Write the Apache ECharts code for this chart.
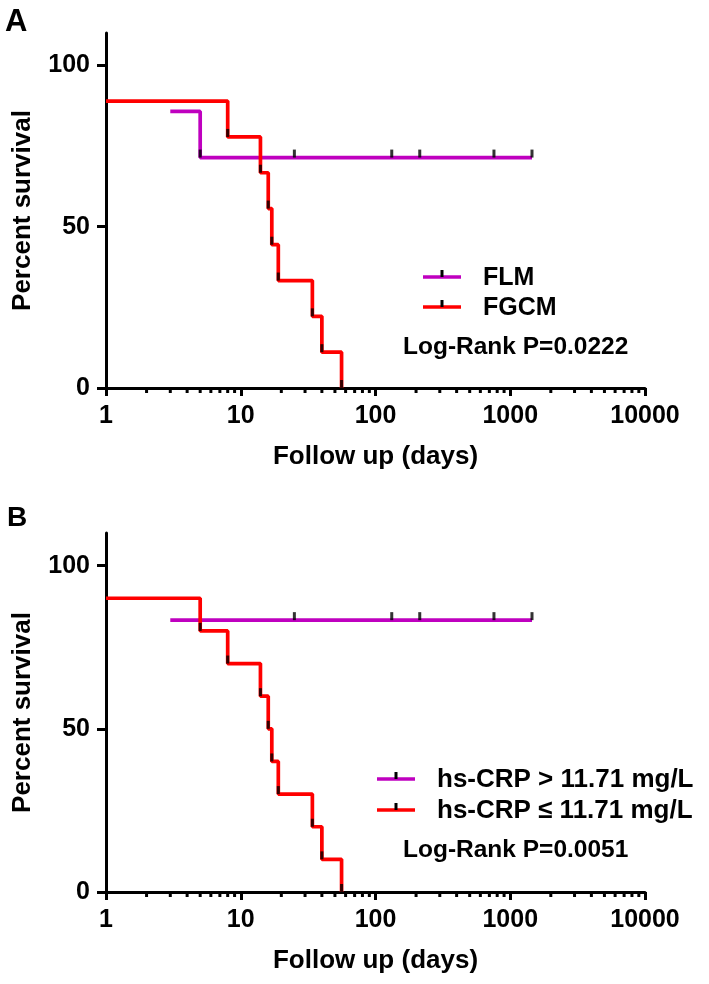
<!DOCTYPE html>
<html>
<head>
<meta charset="utf-8">
<script src="https://cdn.jsdelivr.net/npm/echarts@6/dist/echarts.min.js"></script>
<style>
html,body{margin:0;padding:0;background:#fff;}
#chart{width:709px;height:984px;}
</style>
</head>
<body>
<div id="chart"></div>
<script>
// ---- axis ticks ----
const xTickValues = [1, 10, 100, 1000, 10000];
const xMinorTickValues = [2,3,4,5,6,7,8,9,20,30,40,50,60,70,80,90,200,300,400,500,600,700,800,900,2000,3000,4000,5000,6000,7000,8000,9000];
const yTickValues = [0, 50, 100];

// ---- Panel A ----
const aFLMName = 'FLM';
const aFLMTime = [3, 5, 1450];
const aFLMSurv = [85.7, 71.4, 71.4];
const aFLMCensorTime = [5, 25, 132, 213, 757, 1450];
const aFLMCensorSurv = [71.4, 71.4, 71.4, 71.4, 71.4, 71.4];
const aFGCMName = 'FGCM';
const aFGCMTime = [1, 8, 14, 16, 17, 19, 34, 40, 56];
const aFGCMSurv = [88.9, 77.8, 66.7, 55.6, 44.4, 33.3, 22.2, 11.1, 0];
const aPText = 'Log-Rank P=0.0222';

// ---- Panel B ----
const bHighName = 'hs-CRP > 11.71 mg/L';
const bHighTime = [3, 1450];
const bHighSurv = [83.3, 83.3];
const bHighCensorTime = [25, 132, 213, 757, 1450];
const bHighCensorSurv = [83.3, 83.3, 83.3, 83.3, 83.3];
const bLowName = 'hs-CRP \u2264 11.71 mg/L';
const bLowTime = [1, 5, 8, 14, 16, 17, 19, 34, 40, 56];
const bLowSurv = [90, 80, 70, 60, 50, 40, 30, 20, 10, 0];
const bPText = 'Log-Rank P=0.0051';

const PURPLE = '#BF00BF';
const RED = '#FF0000';
const FONT = '"Liberation Sans", Arial, sans-serif';

function zip(a, b) { return a.map((v, i) => [v, b[i]]); }

const chart = echarts.init(document.getElementById('chart'), null, {renderer: 'canvas'});

const grids = [
  {left: 106, top: 33, width: 539, height: 355},
  {left: 106, top: 533, width: 539, height: 359}
];

function xAxis(gi) {
  return {
    type: 'log', logBase: 10, gridIndex: gi, min: 1, max: 10000,
    name: 'Follow up (days)', nameLocation: 'middle', nameGap: 56,
    nameTextStyle: {fontFamily: FONT, fontWeight: 'bold', fontSize: 26, color: '#000'},
    axisLine: {show: true, lineStyle: {color: '#000', width: 3}},
    axisTick: {show: true, length: 8, lineStyle: {color: '#000', width: 3}},
    axisLabel: {show: true, margin: 16, fontFamily: FONT, fontWeight: 'bold', fontSize: 25, color: '#000',
      formatter: v => String(Math.round(v))},
    splitLine: {show: false}
  };
}
function yAxis(gi) {
  return {
    type: 'value', gridIndex: gi, min: 0, max: 110,
    name: 'Percent survival', nameLocation: 'middle', nameGap: 70, nameRotate: 90,
    nameTextStyle: {fontFamily: FONT, fontWeight: 'bold', fontSize: 26, color: '#000'},
    axisLine: {show: true, lineStyle: {color: '#000', width: 3}},
    axisTick: {show: true, length: 9, lineStyle: {color: '#000', width: 3}, customValues: yTickValues},
    axisLabel: {show: true, margin: 16, fontFamily: FONT, fontWeight: 'bold', fontSize: 25, color: '#000', customValues: yTickValues},
    splitLine: {show: false}
  };
}

function stepLine(gi, name, times, surv, color) {
  return {
    type: 'line', name: name, xAxisIndex: gi, yAxisIndex: gi, step: 'end',
    data: zip(times, surv), showSymbol: false, symbol: 'none',
    lineStyle: {color: color, width: 3.7}, itemStyle: {color: color},
    z: 3, animation: false, silent: true
  };
}
function censor(gi, times, surv) {
  return {
    type: 'scatter', xAxisIndex: gi, yAxisIndex: gi,
    data: zip(times, surv), symbol: 'rect', symbolSize: [3, 8], symbolOffset: [0, -4],
    itemStyle: {color: '#000'}, z: 5, animation: false, silent: true
  };
}
function minorTicks(gi) {
  return {
    type: 'custom', xAxisIndex: gi, yAxisIndex: gi, clip: false,
    data: xMinorTickValues.map(v => [v, 0]),
    renderItem: function (params, api) {
      const p = api.coord([api.value(0), 0]);
      return {type: 'line', shape: {x1: p[0], y1: p[1], x2: p[0], y2: p[1] + 5},
        style: {stroke: '#000', lineWidth: 3}};
    },
    z: 4, animation: false, silent: true
  };
}

function legendItem(x, y, color, text, fontSize) {
  return [
    {type: 'line', shape: {x1: x, y1: y, x2: x + 38, y2: y}, style: {stroke: color, lineWidth: 3.7}},
    {type: 'line', shape: {x1: x + 19, y1: y, x2: x + 19, y2: y - 7}, style: {stroke: '#000', lineWidth: 3}},
    {type: 'text', x: x + 60, y: y + 1, style: {text: text, font: 'bold ' + fontSize + 'px ' + FONT, fill: '#000', verticalAlign: 'middle', align: 'left'}}
  ];
}

const graphics = [].concat(
  [{type: 'text', x: 5, y: 22, style: {text: 'A', font: 'bold 31px ' + FONT, fill: '#000', verticalAlign: 'middle'}},
   {type: 'text', x: 7, y: 518, style: {text: 'B', font: 'bold 28px ' + FONT, fill: '#000', verticalAlign: 'middle'}}],
  legendItem(423, 277, PURPLE, aFLMName, 25),
  legendItem(423, 307, RED, aFGCMName, 25),
  [{type: 'text', x: 403, y: 347, style: {text: aPText, font: 'bold 24.5px ' + FONT, fill: '#000', verticalAlign: 'middle'}}],
  legendItem(377, 779, PURPLE, bHighName, 26),
  legendItem(377, 810, RED, bLowName, 26),
  [{type: 'text', x: 403, y: 850, style: {text: bPText, font: 'bold 24.5px ' + FONT, fill: '#000', verticalAlign: 'middle'}}]
);

const option = {
  animation: false,
  backgroundColor: '#fff',
  grid: grids,
  xAxis: [xAxis(0), xAxis(1)],
  yAxis: [yAxis(0), yAxis(1)],
  series: [
    stepLine(0, aFLMName, aFLMTime, aFLMSurv, PURPLE),
    stepLine(0, aFGCMName, aFGCMTime, aFGCMSurv, RED),
    censor(0, aFLMCensorTime, aFLMCensorSurv),
    censor(0, aFGCMTime.slice(1), aFGCMSurv.slice(1)),
    minorTicks(0),
    stepLine(1, bHighName, bHighTime, bHighSurv, PURPLE),
    stepLine(1, bLowName, bLowTime, bLowSurv, RED),
    censor(1, bHighCensorTime, bHighCensorSurv),
    censor(1, bLowTime.slice(1), bLowSurv.slice(1)),
    minorTicks(1)
  ],
  graphic: graphics
};
chart.setOption(option);
</script>
</body>
</html>
